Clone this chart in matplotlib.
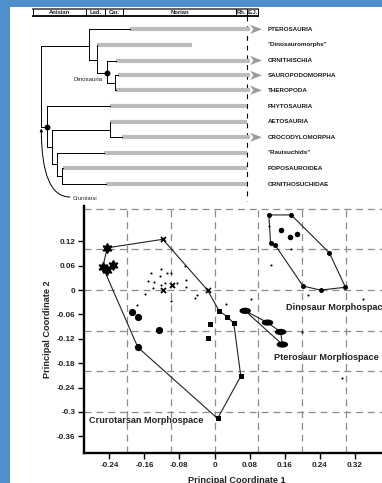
import matplotlib
matplotlib.use('Agg')
import matplotlib.pyplot as plt
from matplotlib.patches import Ellipse, Polygon, Rectangle

plt.rcParams['font.family'] = ['Liberation Sans', 'DejaVu Sans']
plt.rcParams['lines.scale_dashes'] = False

# ---------------- phylogeny panel (panel units) ----------------
stage_names = ["Anisian", "Lad.", "Car.", "Norian", "Rh.", "E.J."]
stage_edges = [33, 86, 105, 123, 236, 247, 258]
taxa = ["PTEROSAURIA", '"Dinosauromorphs"', "ORNITHISCHIA", "SAUROPODOMORPHA", "THEROPODA",
        "PHYTOSAURIA", "AETOSAURIA", "CROCODYLOMORPHA", '"Rauisuchids"', "POPOSAUROIDEA",
        "ORNITHOSUCHIDAE"]
taxon_rows = [29.3, 44.5, 60.5, 75.3, 90.3, 106, 121.7, 137.3, 152.7, 168.3, 184]
branch_start = [89, 96.7, 107.3, 115.3, 115.3, 46.7, 110, 110, 57.3, 61.7, 61.7]
range_start = [130, 97, 116, 118, 116, 110, 110, 121.7, 104, 63.3, 106]
range_end = [250, 192, 250, 250, 250, 247, 247, 250, 247, 247, 247]
survives = [True, False, True, True, True, False, False, True, False, False, False]
boundary_x = 247

# internal nodes: x, top, bottom, parent x, stem y
node_x = [41, 89, 96.7, 107.3, 115.3, 46.7, 51.7, 110, 57.3, 61.7]
node_top = [45.7, 29.3, 44.5, 60.5, 75.3, 106, 129.5, 121.7, 152.7, 168.3]
node_bot = [127, 60, 72.7, 82.7, 90.3, 147, 164.4, 137.3, 176.2, 184]
node_parent_x = [None, 41, 89, 96.7, 107.3, 41, 46.7, 51.7, 51.7, 57.3]
node_stem_y = [None, 45.7, 60, 72.7, 82.7, 127, 147, 129.5, 164.4, 176.2]
named_nodes = ["Dinosauria", "Crurotarsi"]
named_node_xy = [(107.3, 72.7), (46.7, 127)]

# ---------------- morphospace data ----------------
star_x = [-0.245, -0.255, -0.245, -0.231]
star_y = [0.104, 0.057, 0.050, 0.062]
cross_x = [-0.118, -0.016, -0.118, -0.098]
cross_y = [0.125, 0.000, 0.000, 0.012]
bigdot_x = [-0.189, -0.174, -0.127, -0.175]
bigdot_y = [-0.055, -0.066, -0.097, -0.141]
square_x = [0.011, 0.029, 0.044, -0.010, -0.015, 0.060, 0.007]
square_y = [-0.052, -0.065, -0.082, -0.084, -0.117, -0.212, -0.316]
small_x = [-0.123, -0.144, -0.108, -0.100, -0.124, -0.153, -0.138, -0.113, -0.123, -0.085,
           -0.066, -0.064, -0.140, -0.158, -0.099, -0.039, -0.044, -0.067, 0.026, -0.178,
           0.084, 0.200, 0.290, 0.213, 0.340, 0.128, 0.124, 0.175]
small_y = [0.053, 0.041, 0.041, 0.041, 0.034, 0.023, 0.020, 0.017, 0.012, 0.018,
           0.024, 0.008, 0.005, -0.010, -0.027, -0.011, -0.020, 0.060, -0.035, -0.037,
           -0.021, -0.102, -0.216, -0.012, -0.022, 0.061, 0.158, 0.102]
crur_hull_x = [-0.245, -0.118, -0.016, 0.011, 0.029, 0.044, 0.060, 0.007, -0.175, -0.255]
crur_hull_y = [0.104, 0.125, 0.000, -0.052, -0.065, -0.082, -0.212, -0.316, -0.141, 0.057]
dino_hull_x = [0.124, 0.175, 0.262, 0.299, 0.242, 0.202, 0.139, 0.128]
dino_hull_y = [0.185, 0.185, 0.092, 0.007, 0.000, 0.010, 0.110, 0.116]
dino_in_x = [0.151, 0.172, 0.188]
dino_in_y = [0.148, 0.131, 0.139]
ptero_x = [0.070, 0.121, 0.151, 0.155]
ptero_y = [-0.051, -0.080, -0.103, -0.134]
xticks = [-0.24, -0.16, -0.08, 0, 0.08, 0.16, 0.24, 0.32]
xtick_labels = ["-0.24", "-0.16", "-0.08", "0", "0.08", "0.16", "0.24", "0.32"]
yticks = [0.12, 0.06, 0, -0.06, -0.12, -0.18, -0.24, -0.3, -0.36]
ytick_labels = ["0.12", "0.06", "0", "-0.06", "-0.12", "-0.18", "-0.24", "-0.3", "-0.36"]
grid_x = [-0.2, -0.1, 0, 0.1, 0.2, 0.3]
grid_y = [0.2, 0.1, 0, -0.1, -0.2, -0.3]

W, H = 382, 483
fig = plt.figure(figsize=(W / 100, H / 100), dpi=100, facecolor='white')

# ---------- overlay / tree axes ----------
tr = fig.add_axes([0, 0, 1, 1])
tr.set_xlim(0, W)
tr.set_ylim(H, 0)
tr.axis('off')
blue = '#4f8fcc'
tr.add_patch(Rectangle((0, 0), 10, H, color=blue, lw=0, zorder=0))
tr.add_patch(Rectangle((0, 0), W, 7, color=blue, lw=0, zorder=0))

# timescale
ts_top, ts_bot = 8.5, 16.3
tr.plot([stage_edges[0], stage_edges[-1]], [ts_top, ts_top], color='#555555', lw=1.3)
tr.plot([stage_edges[0], stage_edges[-1]], [ts_bot, ts_bot], color='k', lw=1.3)
for e in stage_edges:
    tr.plot([e, e], [ts_top, ts_bot], color='k', lw=0.7)
for i, nm in enumerate(stage_names):
    tr.text((stage_edges[i] + stage_edges[i + 1]) / 2, (ts_top + ts_bot) / 2 + 0.3, nm,
            fontsize=4.2, fontweight='bold', ha='center', va='center', color='#222222')

tr.plot([boundary_x, boundary_x], [ts_bot, 201], color='k', lw=0.8, ls=(0, (3.5, 3.5)))

# ranges and branches
for i, t in enumerate(taxa):
    y = taxon_rows[i]
    tr.plot([range_start[i], range_end[i]], [y, y], color='#bcbcbc', lw=3.0,
            solid_capstyle='butt', zorder=2)
    tr.plot([branch_start[i], range_start[i]], [y, y], color='k', lw=0.7, zorder=3)
    if survives[i]:
        tr.add_patch(Polygon([(250, y - 4.6), (262, y), (250, y + 4.6), (253.5, y)],
                             closed=True, color='#9a9a9a', lw=0, zorder=3))
    tr.text(268, y, t, fontsize=4.5, fontweight='bold', ha='left', va='center',
            color='#1a1a1a')

for i in range(len(node_x)):
    tr.plot([node_x[i], node_x[i]], [node_top[i], node_bot[i]], color='k', lw=0.7, zorder=3)
    if node_parent_x[i] is not None:
        tr.plot([node_parent_x[i], node_x[i]], [node_stem_y[i], node_stem_y[i]],
                color='k', lw=0.7, zorder=3)

for (nx, ny) in named_node_xy:
    tr.plot(nx, ny, 'o', color='k', ms=3.2, zorder=4)
tr.text(103, 79.5, named_nodes[0], fontsize=4.4, ha='right', va='center', color='#222222')
tr.text(73, 198, named_nodes[1], fontsize=4.1, ha='left', va='center', color='#222222')
tr.annotate('', xy=(41.3, 128.5), xytext=(70, 197),
            arrowprops=dict(arrowstyle='-|>', lw=0.7, color='k', mutation_scale=4,
                            shrinkA=0, shrinkB=0,
                            connectionstyle='angle3,angleA=0,angleB=90'))

# ---------- morphospace axes ----------
xl = (-0.298, 0.4)
yl = (-0.401, 0.207)
ax = fig.add_axes([84 / W, 30 / H, (389.7 - 84) / W, 247 / H])
ax.set_facecolor('none')
ax.set_xlim(*xl)
ax.set_ylim(*yl)
for s in ['top', 'right']:
    ax.spines[s].set_visible(False)
for s in ['left', 'bottom']:
    ax.spines[s].set_linewidth(1.7)
gcol = '#8c8c8c'
for gx in grid_x:
    ax.axvline(gx, color=gcol, lw=0.9, ls=(0, (5, 3.5)), zorder=0)
for gy in grid_y:
    ax.axhline(gy, color=gcol, lw=0.9, ls=(0, (5, 3.5)), zorder=0)

ax.set_xticks(xticks)
ax.set_xticklabels(xtick_labels)
ax.set_yticks(yticks)
ax.set_yticklabels(ytick_labels)
ax.tick_params(axis='both', direction='out', length=4.3, width=1.0, labelsize=5.8, pad=2)
for lab in ax.get_xticklabels() + ax.get_yticklabels():
    lab.set_fontweight('bold')
    lab.set_color('#222222')

ax.set_xlabel('Principal Coordinate 1', fontsize=6.6, fontweight='bold', labelpad=5,
              color='#222222')
ax.set_ylabel('Principal Coordinate 2', fontsize=6.6, fontweight='bold', labelpad=3.5,
              color='#222222')

# hulls
ax.plot(crur_hull_x + crur_hull_x[:1], crur_hull_y + crur_hull_y[:1], color='#222222',
        lw=0.8, zorder=2)
ax.plot(dino_hull_x + dino_hull_x[:1], dino_hull_y + dino_hull_y[:1], color='#222222',
        lw=0.8, zorder=2)
ax.plot(ptero_x + ptero_x[:1], ptero_y + ptero_y[:1], color='#222222', lw=0.8, zorder=2)

# markers
ax.plot(small_x, small_y, 'o', color='k', ms=1.5, mew=0, zorder=3)
ax.plot(star_x, star_y, marker=(6, 1, 0), ls='none', color='k', ms=7.2, zorder=3)
ax.plot(cross_x, cross_y, 'x', color='k', ms=3.6, mew=1.3, zorder=3)
ax.plot(bigdot_x, bigdot_y, 'o', color='k', ms=5.2, mew=0, zorder=3)
ax.plot(square_x, square_y, 's', color='k', ms=3.6, mew=0, zorder=3)
ax.plot(dino_hull_x, dino_hull_y, 'o', color='k', ms=3.6, mew=0, zorder=3)
ax.plot(dino_in_x, dino_in_y, 'o', color='k', ms=4.0, mew=0, zorder=3)
for ex, ey in zip(ptero_x, ptero_y):
    ax.add_patch(Ellipse((ex, ey), width=10 / 438, height=4.8 / 406, color='k', zorder=3))

ax.text(0.163, -0.044, 'Dinosaur Morphospace', fontsize=6.6, fontweight='bold',
        ha='left', va='center', color='#222222')
ax.text(0.136, -0.165, 'Pterosaur Morphospace', fontsize=6.6, fontweight='bold',
        ha='left', va='center', color='#222222')
ax.text(-0.286, -0.321, 'Crurotarsan Morphospace', fontsize=6.6, fontweight='bold',
        ha='left', va='center', color='#222222')

fig.savefig('out.png', dpi=100, facecolor='white')
